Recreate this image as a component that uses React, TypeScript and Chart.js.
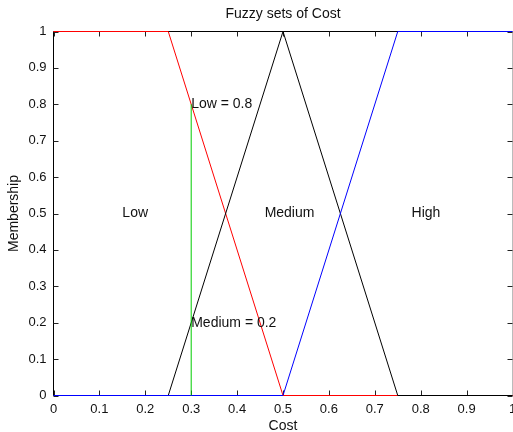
import React, { useEffect, useRef } from "react";
import { Chart, registerables } from "chart.js";

Chart.register(...registerables);

const lowX = [0, 0.25, 0.5, 1];
const lowY = [1, 1, 0, 0];
const mediumX = [0, 0.25, 0.5, 0.75, 1];
const mediumY = [0, 0, 1, 0, 0];
const highX = [0, 0.5, 0.75, 1];
const highY = [0, 0, 1, 1];
const stemX = [0.3, 0.3];
const stemY = [0, 0.8];
const tickValues = [0, 0.1, 0.2, 0.3, 0.4, 0.5, 0.6, 0.7, 0.8, 0.9, 1];
const setLabels = [
  { text: "Low", x: 0.15, y: 0.5 },
  { text: "Medium", x: 0.46, y: 0.5 },
  { text: "High", x: 0.78, y: 0.5 },
];
const valueLabels = [
  { text: "Low = 0.8", x: 0.3, y: 0.8 },
  { text: "Medium = 0.2", x: 0.3, y: 0.2 },
];
const title = "Fuzzy sets of Cost";
const xTitle = "Cost";
const yTitle = "Membership";

const FONT = 'Arial, "Liberation Sans", Helvetica, sans-serif';

const pts = (xs: number[], ys: number[]) => xs.map((x, i) => ({ x, y: ys[i] }));

const decor = {
  id: "decor",
  beforeDatasetsDraw(chart: any) {
    const { ctx, chartArea: a, scales } = chart;
    const xs = scales.x;
    const ys = scales.y;
    ctx.save();
    ctx.strokeStyle = "#000";
    ctx.lineWidth = 1;
    ctx.beginPath();
    ctx.moveTo(a.left, a.top);
    ctx.lineTo(a.right, a.top);
    ctx.moveTo(a.left, a.top);
    ctx.lineTo(a.left, a.bottom);
    ctx.moveTo(a.left, a.bottom);
    ctx.lineTo(a.right, a.bottom);
    ctx.stroke();
    ctx.strokeStyle = "#bbb";
    ctx.beginPath();
    ctx.moveTo(a.right, a.top);
    ctx.lineTo(a.right, a.bottom);
    ctx.stroke();
    const tl = 5;
    ctx.strokeStyle = "#222";
    ctx.beginPath();
    tickValues.forEach((v) => {
      const px = Math.round(xs.getPixelForValue(v)) + 0.5;
      ctx.moveTo(px, a.bottom);
      ctx.lineTo(px, a.bottom - tl);
      ctx.moveTo(px, a.top);
      ctx.lineTo(px, a.top + tl);
      const py = Math.round(ys.getPixelForValue(v)) + 0.5;
      ctx.moveTo(a.left, py);
      ctx.lineTo(a.left + tl, py);
      ctx.moveTo(a.right, py);
      ctx.lineTo(a.right - tl, py);
    });
    ctx.stroke();
    ctx.restore();
  },
  afterDatasetsDraw(chart: any) {
    const { ctx, chartArea: a, scales } = chart;
    const xs = scales.x;
    const ys = scales.y;
    ctx.save();
    ctx.fillStyle = "#111";
    ctx.font = `14px ${FONT}`;
    ctx.textAlign = "left";
    ctx.textBaseline = "middle";
    setLabels.forEach((l) => {
      ctx.fillText(l.text, xs.getPixelForValue(l.x), ys.getPixelForValue(l.y));
    });
    valueLabels.forEach((l) => {
      ctx.fillText(l.text, xs.getPixelForValue(l.x), ys.getPixelForValue(l.y));
    });
    ctx.textAlign = "center";
    ctx.textBaseline = "alphabetic";
    ctx.fillText(title, (a.left + a.right) / 2, 18);
    ctx.fillText(xTitle, (a.left + a.right) / 2, 430);
    ctx.translate(18, (a.top + a.bottom) / 2);
    ctx.rotate(-Math.PI / 2);
    ctx.fillText(yTitle, 0, 0);
    ctx.restore();
  },
};

export default function App() {
  const ref = useRef<HTMLCanvasElement | null>(null);
  useEffect(() => {
    if (!ref.current) return;
    const fmt = (v: any) => {
      const n = Math.round(Number(v) * 10) / 10;
      return String(n);
    };
    const chart = new Chart(ref.current, {
      type: "line",
      data: {
        datasets: [
          { label: "Low", data: pts(lowX, lowY), borderColor: "#ff0000", order: 4 },
          { label: "Medium", data: pts(mediumX, mediumY), borderColor: "#000000", order: 3 },
          { label: "High", data: pts(highX, highY), borderColor: "#0000ff", order: 2 },
          { label: "Stem", data: pts(stemX, stemY), borderColor: "#00cc00", order: 1 },
        ].map((d) => ({
          ...d,
          borderWidth: 1,
          pointRadius: 0,
          tension: 0,
          fill: false,
          clip: 2,
        })),
      },
      options: {
        responsive: false,
        animation: false,
        events: [],
        layout: { padding: { top: 31.5, right: 0.5, left: 0, bottom: 0 } },
        plugins: { legend: { display: false }, tooltip: { enabled: false }, title: { display: false } },
        scales: {
          x: {
            type: "linear",
            min: 0,
            max: 1,
            grid: { display: false, drawTicks: false },
            border: { display: false },
            ticks: {
              stepSize: 0.1,
              autoSkip: false,
              maxRotation: 0,
              padding: 6,
              color: "#111",
              font: { family: FONT, size: 13 },
              callback: fmt,
            },
            afterFit: (s: any) => {
              s.height = 36.5;
              s.paddingLeft = 0;
              s.paddingRight = 0;
            },
          },
          y: {
            type: "linear",
            min: 0,
            max: 1,
            grid: { display: false, drawTicks: false },
            border: { display: false },
            ticks: {
              stepSize: 0.1,
              autoSkip: false,
              padding: 7,
              color: "#111",
              font: { family: FONT, size: 13 },
              callback: fmt,
            },
            afterFit: (s: any) => {
              s.width = 53.5;
              s.paddingTop = 0;
              s.paddingBottom = 0;
            },
          },
        },
      },
      plugins: [decor],
    });
    return () => chart.destroy();
  }, []);
  return (
    <div style={{ position: "absolute", left: 0, top: 0, width: 513, height: 432, background: "#fff" }}>
      <canvas ref={ref} width={513} height={432} />
    </div>
  );
}
